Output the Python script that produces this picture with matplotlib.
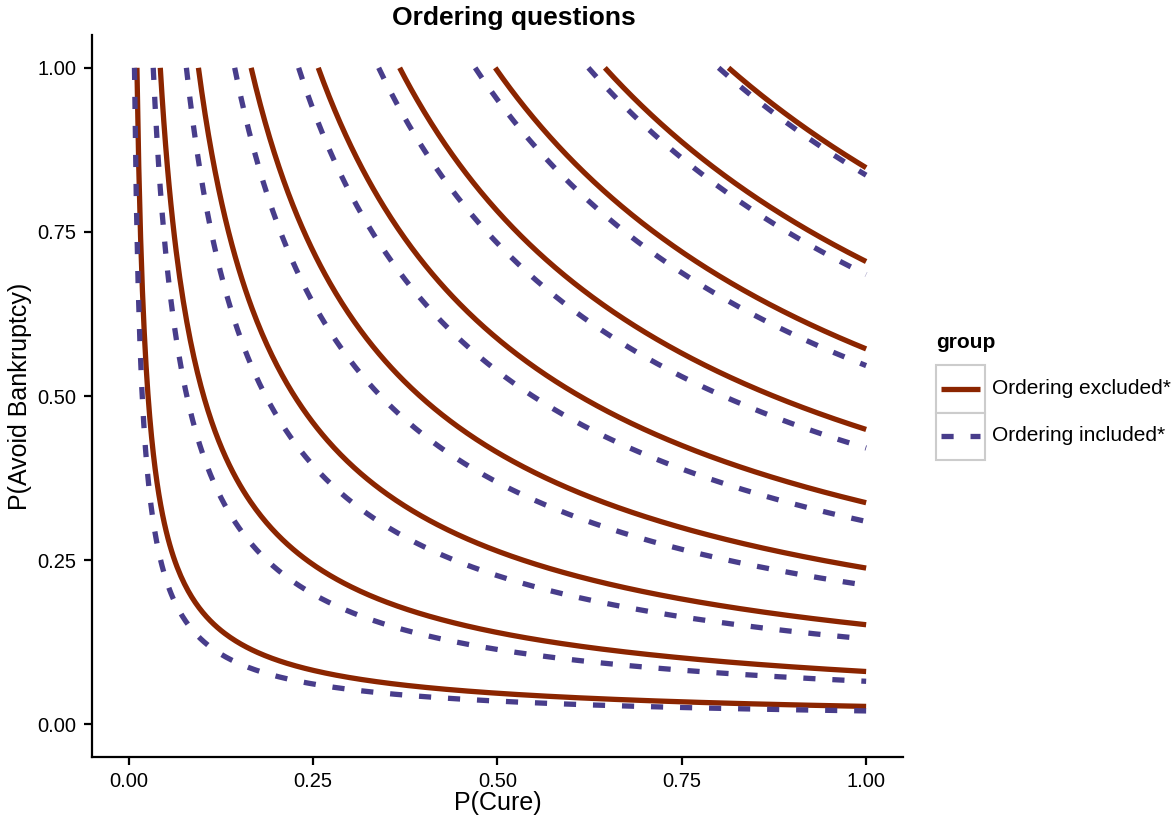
import numpy as np
import matplotlib
matplotlib.use("Agg")
import matplotlib.pyplot as plt
from matplotlib.patches import Rectangle
from matplotlib.lines import Line2D

plt.rcParams['font.family'] = ['Liberation Sans', 'DejaVu Sans']

# indifference levels U = x^a * y^b
levels = [0.1, 0.2, 0.3, 0.4, 0.5, 0.6, 0.7, 0.8, 0.9]
groups = ["Ordering excluded*", "Ordering included*"]
exp_cure = [0.51, 0.472]      # a
exp_bankrupt = [0.638, 0.59]  # b
colors = ["#8B2500", "#483D8B"]
styles = ["-", (0, (2.3, 3.2))]

xticks = [0.0, 0.25, 0.5, 0.75, 1.0]
yticks = [0.0, 0.25, 0.5, 0.75, 1.0]

W, H = 1176, 825
LW = 3.8
fig = plt.figure(figsize=(W / 100, H / 100), dpi=100)
ax = fig.add_axes([92 / W, 1 - 757 / H, (903 - 92) / W, (757 - 35) / H])

for g in range(len(groups)):
    a, b = exp_cure[g], exp_bankrupt[g]
    for u in levels:
        x0 = u ** (1 / a)  # where the curve hits y = 1
        x = np.linspace(x0, 1, 400)
        y = (u / x ** a) ** (1 / b)
        ax.plot(x, y, color=colors[g], lw=LW, linestyle=styles[g],
                solid_capstyle='butt', dash_capstyle='butt')

ax.set_xlim(-0.05, 1.05)
ax.set_ylim(-0.05, 1.05)
ax.set_xticks(xticks)
ax.set_yticks(yticks)
ax.set_xticklabels([f"{v:.2f}" for v in xticks])
ax.set_yticklabels([f"{v:.2f}" for v in yticks])
for s in ['top', 'right']:
    ax.spines[s].set_visible(False)
for s in ['left', 'bottom']:
    ax.spines[s].set_linewidth(1.6)
ax.tick_params(axis='both', length=6, width=1.6, labelsize=14.5, pad=5, colors='black')

ax.set_xlabel("P(Cure)", fontsize=18, labelpad=0)
ax.set_ylabel("P(Avoid Bankruptcy)", fontsize=18, labelpad=4)
fig.text(514 / W, 1 - 18 / H, "Ordering questions", fontsize=19, fontweight='bold',
         ha='center', va='center')

# legend drawn by hand (ggplot style key boxes)
fig.text(936 / W, 1 - 343 / H, "group", fontsize=15, fontweight='bold', va='center', ha='left')
for i, g in enumerate(groups):
    top = 365 + i * 47.5
    fig.add_artist(Rectangle((936 / W, 1 - (top + 47.5) / H), 49 / W, 47.5 / H,
                             transform=fig.transFigure, facecolor='white',
                             edgecolor='#cccccc', lw=1.5))
    yc = 1 - (top + 23.5) / H
    fig.add_artist(Line2D([941 / W, 980 / W], [yc, yc], transform=fig.transFigure,
                          color=colors[i], lw=LW, linestyle=styles[i],
                          solid_capstyle='butt', dash_capstyle='butt'))
    fig.text(992 / W, yc, g, fontsize=15, va='center', ha='left')

fig.savefig("out.png", dpi=100)
